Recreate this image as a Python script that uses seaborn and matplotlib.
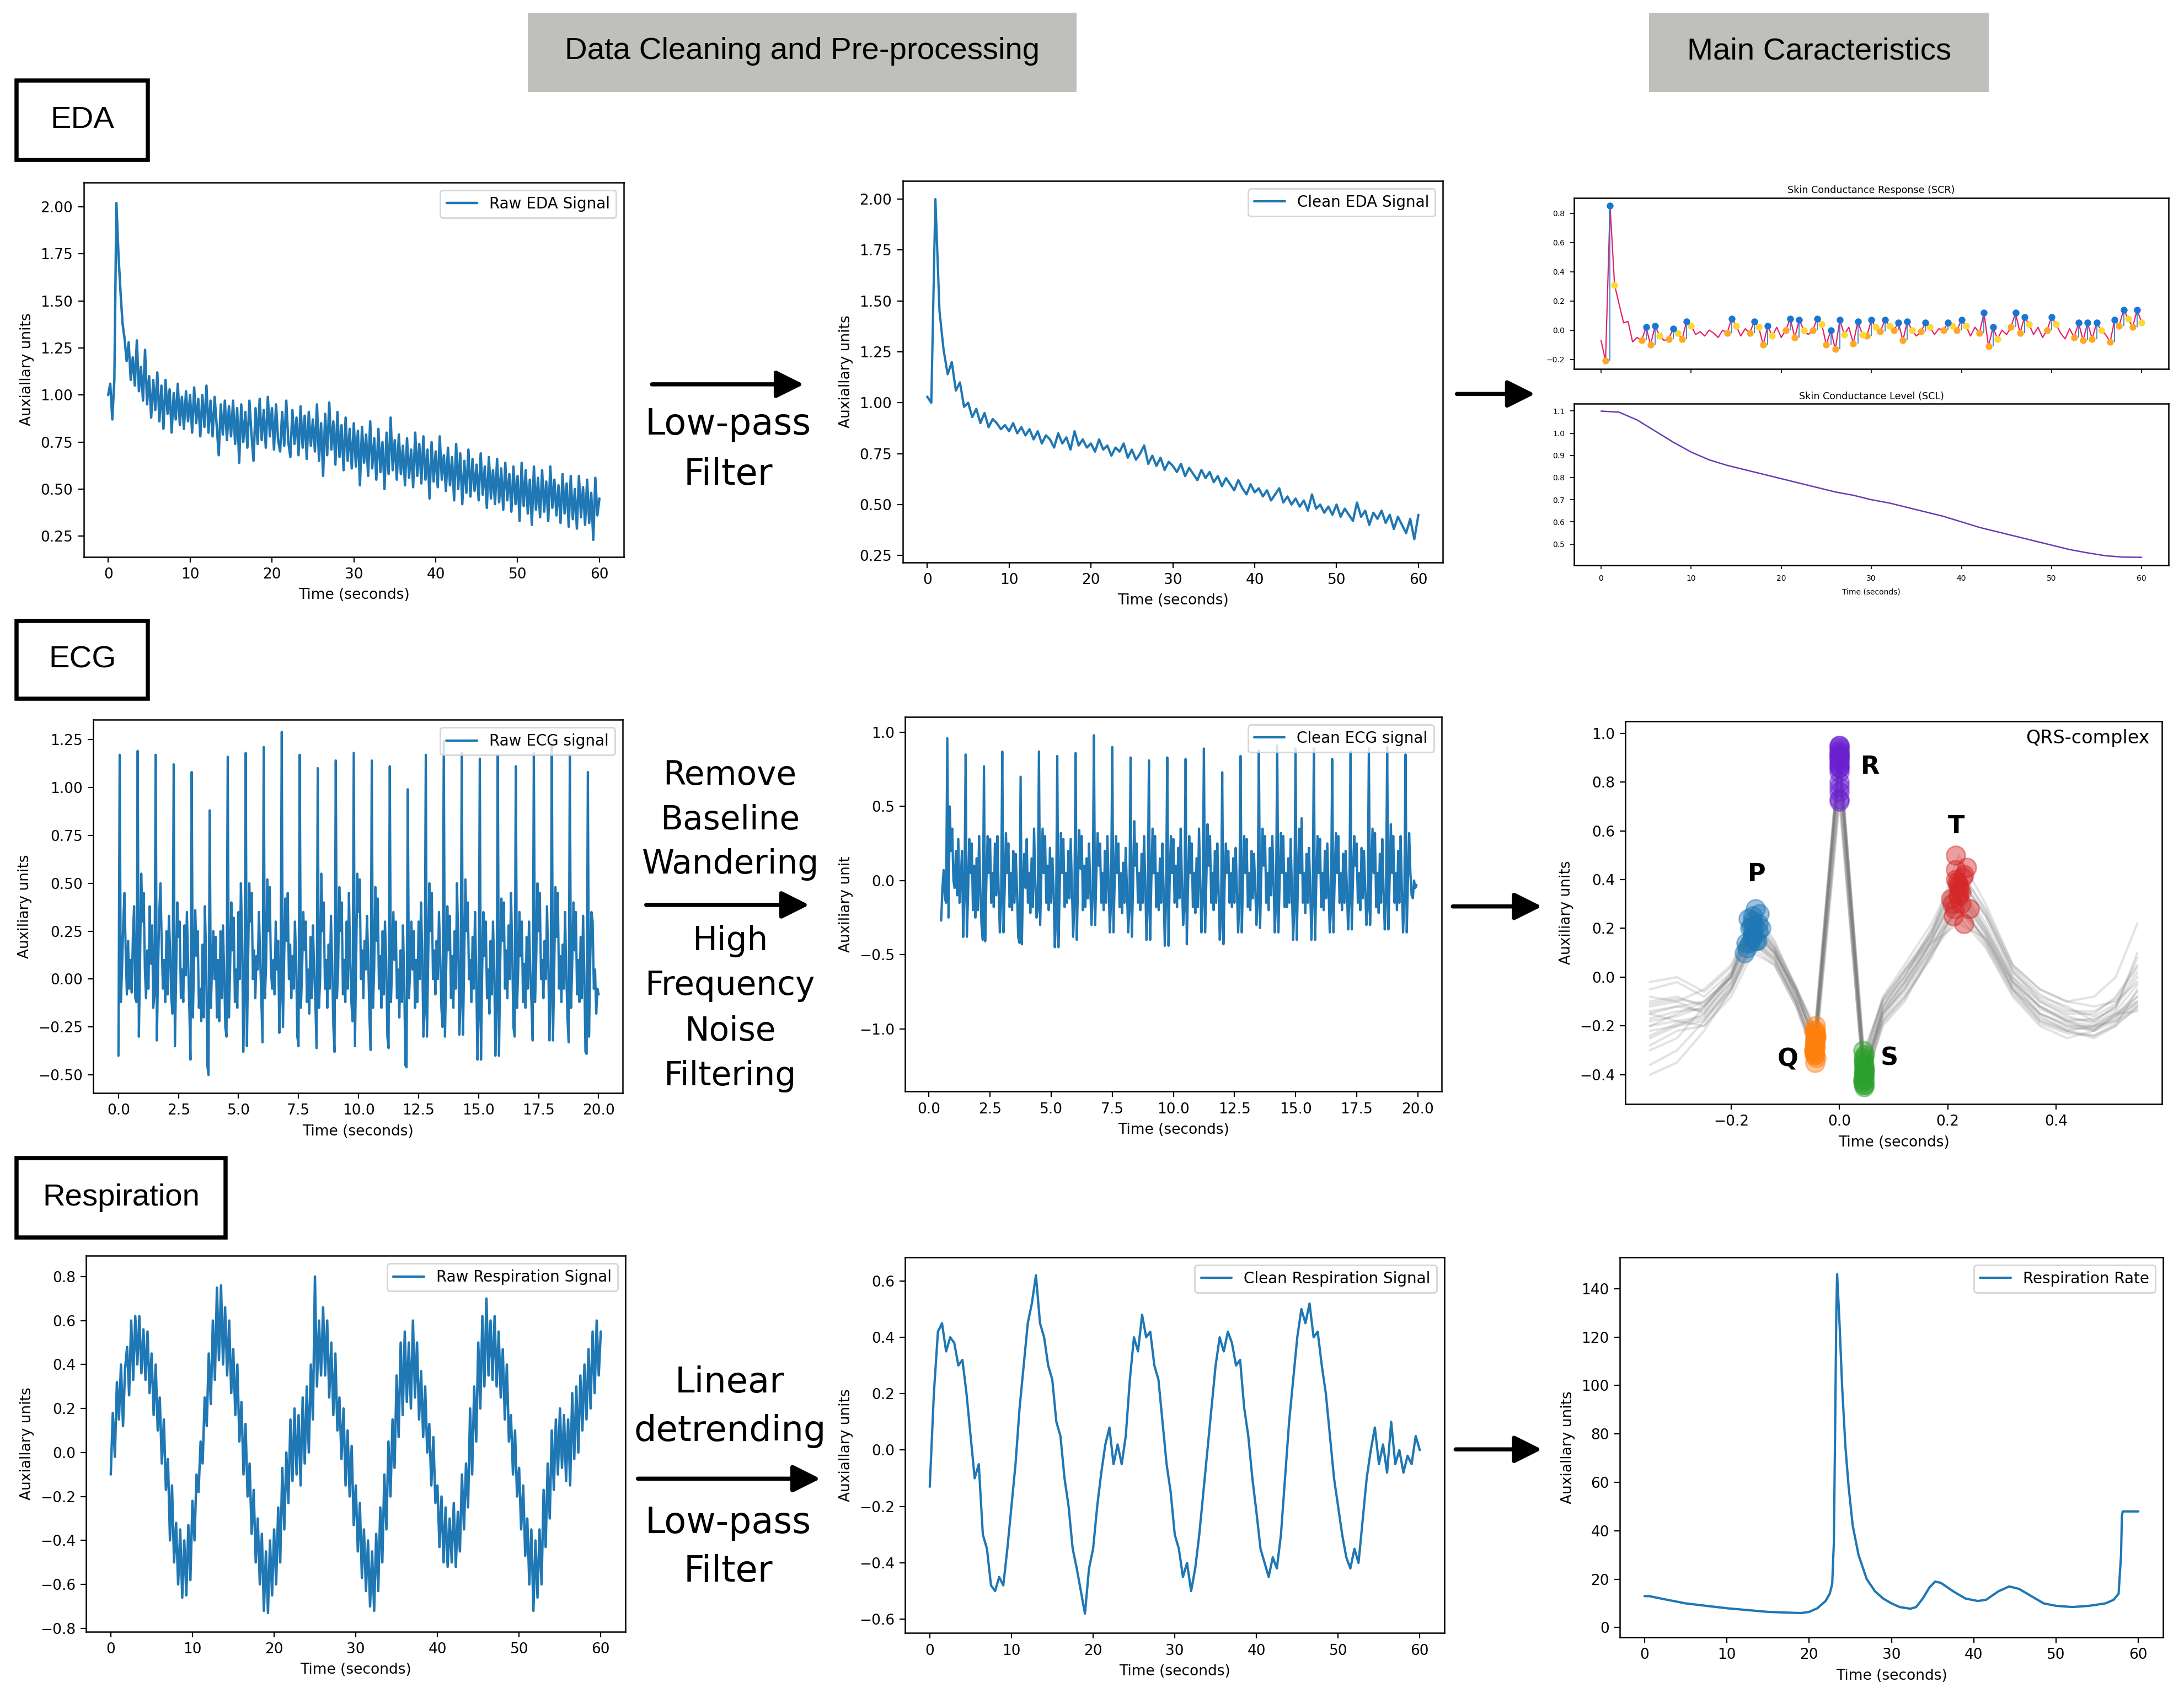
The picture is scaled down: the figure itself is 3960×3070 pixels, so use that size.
import numpy as np
import pandas as pd
import matplotlib
matplotlib.use("Agg")
import matplotlib.pyplot as plt
from matplotlib.patches import Rectangle, FancyArrowPatch
import seaborn as sns

# ======================= DATA =======================
# --- EDA raw (0..60 s, 0.25 s step)
eda_raw = [
    1.00, 1.06, 0.87, 1.08, 2.02, 1.75, 1.55, 1.38, 1.30, 1.18, 1.28, 1.08, 1.20, 1.05, 1.29, 1.02, 1.15, 0.97, 1.24, 0.95,
    1.10, 0.88, 1.08, 0.92, 1.12, 0.86, 1.05, 0.82, 1.08, 0.90, 1.03, 0.80, 1.01, 0.87, 1.06, 0.84, 0.99, 0.82, 1.02, 0.86,
    1.00, 0.80, 1.04, 0.85, 0.98, 0.78, 1.00, 0.83, 1.05, 0.80, 0.97, 0.78, 0.99, 0.84, 0.68, 0.95, 0.79, 0.97, 0.76, 0.94,
    0.78, 0.97, 0.74, 0.93, 0.64, 0.95, 0.75, 0.91, 0.72, 0.97, 0.79, 0.65, 0.93, 0.74, 0.98, 0.76, 0.92, 0.72, 0.99, 0.78,
    0.93, 0.71, 0.95, 0.76, 0.70, 0.91, 0.73, 0.97, 0.75, 0.67, 0.92, 0.74, 0.88, 0.68, 0.94, 0.72, 0.89, 0.66, 0.91, 0.73,
    0.87, 0.70, 0.95, 0.65, 0.85, 0.57, 0.90, 0.68, 0.96, 0.71, 0.86, 0.63, 0.91, 0.67, 0.84, 0.60, 0.88, 0.65, 0.82, 0.61,
    0.85, 0.62, 0.81, 0.52, 0.83, 0.64, 0.79, 0.57, 0.86, 0.61, 0.77, 0.55, 0.82, 0.59, 0.75, 0.50, 0.80, 0.58, 0.88, 0.60,
    0.76, 0.55, 0.79, 0.58, 0.73, 0.52, 0.77, 0.56, 0.71, 0.51, 0.80, 0.57, 0.74, 0.53, 0.78, 0.55, 0.71, 0.45, 0.75, 0.54,
    0.70, 0.51, 0.78, 0.55, 0.68, 0.49, 0.72, 0.52, 0.67, 0.44, 0.74, 0.50, 0.69, 0.42, 0.65, 0.48, 0.71, 0.46, 0.66, 0.49,
    0.63, 0.44, 0.69, 0.47, 0.62, 0.40, 0.67, 0.45, 0.60, 0.42, 0.66, 0.43, 0.61, 0.39, 0.64, 0.44, 0.58, 0.38, 0.62, 0.42,
    0.57, 0.33, 0.64, 0.41, 0.60, 0.37, 0.55, 0.31, 0.62, 0.39, 0.56, 0.35, 0.60, 0.38, 0.54, 0.33, 0.62, 0.40, 0.55, 0.36,
    0.52, 0.32, 0.58, 0.37, 0.53, 0.30, 0.57, 0.34, 0.50, 0.29, 0.57, 0.35, 0.51, 0.31, 0.55, 0.32, 0.48, 0.23, 0.56, 0.36,
    0.45,
]
# --- EDA clean (0..60 s, 0.5 s step)
eda_clean = [
    1.03, 1.00, 2.00, 1.45, 1.26, 1.14, 1.20, 1.06, 1.10, 0.98,
    1.00, 0.93, 0.97, 0.90, 0.95, 0.88, 0.92, 0.90, 0.87, 0.89,
    0.86, 0.90, 0.85, 0.88, 0.84, 0.87, 0.82, 0.86, 0.80, 0.84,
    0.82, 0.78, 0.85, 0.80, 0.83, 0.77, 0.86, 0.79, 0.82, 0.78,
    0.80, 0.76, 0.82, 0.77, 0.79, 0.74, 0.78, 0.76, 0.80, 0.73,
    0.77, 0.72, 0.75, 0.79, 0.70, 0.74, 0.69, 0.73, 0.67, 0.71,
    0.69, 0.66, 0.70, 0.64, 0.68, 0.65, 0.62, 0.67, 0.63, 0.66,
    0.61, 0.64, 0.59, 0.63, 0.60, 0.57, 0.62, 0.58, 0.55, 0.60,
    0.56, 0.58, 0.54, 0.57, 0.52, 0.55, 0.58, 0.51, 0.54, 0.50,
    0.53, 0.49, 0.52, 0.47, 0.55, 0.48, 0.50, 0.46, 0.49, 0.45,
    0.50, 0.44, 0.48, 0.45, 0.42, 0.51, 0.44, 0.47, 0.40, 0.46,
    0.43, 0.47, 0.41, 0.45, 0.38, 0.44, 0.40, 0.36, 0.43, 0.33,
    0.45,
]
# --- SCR phasic component (0..60 s, 0.5 s step)
scr = [
    -0.07, -0.21, 0.85, 0.31, 0.18, 0.05, 0.06, -0.08, -0.05, -0.07,
    0.02, -0.10, 0.03, -0.04, -0.07, -0.06, 0.01, -0.02, -0.06, 0.06,
    0.03, -0.03, -0.01, -0.04, 0.00, -0.02, -0.05, 0.00, -0.02, 0.08,
    0.03, -0.04, 0.01, -0.02, 0.06, 0.02, -0.10, 0.03, -0.04, 0.02,
    -0.05, 0.00, 0.08, -0.05, 0.07, 0.00, -0.03, 0.00, 0.08, 0.04,
    -0.10, 0.00, -0.13, 0.07, -0.03, 0.02, -0.09, 0.06, -0.03, -0.04,
    0.07, 0.02, -0.01, 0.07, 0.03, 0.00, 0.05, -0.07, 0.06, 0.00,
    -0.04, -0.01, 0.05, 0.02, -0.03, 0.01, 0.00, 0.05, 0.03, 0.00,
    0.07, 0.03, -0.04, 0.02, -0.02, 0.12, -0.11, 0.02, -0.06, 0.00,
    -0.03, 0.02, 0.12, -0.02, 0.09, 0.04, -0.03, 0.02, -0.05, 0.00,
    0.09, 0.04, -0.02, -0.06, 0.01, -0.05, 0.05, -0.07, 0.05, -0.06,
    0.05, 0.00, -0.03, -0.08, 0.07, 0.03, 0.14, 0.08, 0.02, 0.14,
    0.05,
]
scr_peak_idx = [2, 10, 12, 16, 19, 29, 34, 37, 42, 44, 48, 51, 53, 57, 60, 63, 66, 68, 72, 77,
                80, 85, 87, 92, 94, 100, 106, 108, 110, 114, 116, 119]
scr_onset_idx = [1, 9, 11, 15, 18, 28, 33, 36, 41, 43, 47, 50, 52, 56, 59, 62, 65, 67, 71, 76,
                 79, 84, 86, 91, 93, 99, 105, 107, 109, 113, 115, 118]
scr_half_idx = [3, 13, 17, 20, 30, 35, 38, 45, 49, 54, 58, 61, 64, 69, 73, 78, 81, 88, 95, 101,
                111, 117, 120]
# --- SCL tonic component (0..60 s, 2 s step)
scl = [1.100, 1.095, 1.060, 1.010, 0.960, 0.915, 0.880, 0.855, 0.835, 0.815, 0.795,
       0.775, 0.755, 0.735, 0.720, 0.700, 0.685, 0.665, 0.645, 0.625, 0.600,
       0.575, 0.555, 0.535, 0.515, 0.495, 0.475, 0.460, 0.447, 0.441, 0.440]

# --- ECG raw (0.05 s step, one row per heartbeat starting at the Q dip)
ecg_raw_beats = [
    [-0.40, 1.17, -0.12, 0.05, 0.30, 0.45, 0.15, -0.08, 0.20, -0.05, 0.10, -0.07, 0.22, 0.38, -0.10],
    [-0.12, 1.19, -0.30, 0.10, 0.55, 0.30, 0.45, 0.05, -0.10, 0.15, -0.05, 0.38, 0.08, 0.28, -0.15],
    [-0.08, 1.17, -0.32, 0.05, 0.35, 0.50, 0.20, -0.05, 0.10, -0.12, 0.25, -0.08, 0.33, 0.15, -0.10],
    [-0.18, 1.12, -0.35, 0.00, 0.40, 0.22, 0.30, -0.10, 0.05, -0.12, 0.28, 0.02, 0.35, 0.10, -0.15],
    [-0.42, 1.08, -0.20, 0.10, 0.36, 0.12, 0.25, -0.15, -0.05, -0.22, 0.18, -0.20, 0.38, 0.12, -0.45],
    [-0.50, 0.88, -0.15, 0.08, 0.25, 0.00, 0.22, -0.20, 0.10, -0.22, 0.25, -0.10, 0.28, 0.05, -0.25],
    [-0.30, 1.16, -0.20, 0.05, 0.40, 0.15, 0.32, -0.12, 0.05, -0.15, 0.35, 0.00, 0.50, 0.20, -0.38],
    [-0.10, 1.18, -0.35, 0.10, 0.50, 0.30, 0.45, 0.00, 0.15, -0.10, 0.12, 0.05, 0.35, 0.12, -0.12],
    [-0.33, 1.21, -0.10, 0.08, 0.52, 0.25, 0.48, 0.05, -0.05, 0.10, -0.08, 0.30, 0.05, 0.20, -0.28],
    [-0.10, 1.29, -0.25, 0.10, 0.42, 0.20, 0.45, 0.00, 0.18, -0.10, 0.12, -0.05, 0.30, 0.10, -0.30],
    [-0.35, 1.17, -0.15, 0.05, 0.35, 0.15, 0.30, -0.12, 0.05, -0.18, 0.22, -0.10, 0.28, 0.05, -0.12],
    [-0.36, 1.10, -0.15, 0.00, 0.55, 0.25, 0.40, -0.05, 0.10, -0.15, 0.18, -0.05, 0.33, 0.08, -0.25],
    [-0.38, 1.14, -0.10, 0.05, 0.48, 0.25, 0.40, -0.08, 0.10, -0.12, 0.30, -0.05, 0.45, 0.10, -0.12],
    [-0.22, 1.18, -0.35, 0.10, 0.55, 0.35, 0.52, 0.00, 0.15, -0.10, 0.20, 0.05, 0.33, 0.12, -0.18],
    [-0.37, 1.14, -0.15, 0.05, 0.48, 0.20, 0.42, -0.05, 0.12, -0.15, 0.25, -0.08, 0.30, 0.10, -0.30],
    [-0.36, 1.11, -0.12, 0.08, 0.35, 0.10, 0.30, -0.10, 0.05, -0.20, 0.15, -0.12, 0.28, 0.00, -0.45],
    [-0.46, 0.99, -0.10, 0.05, 0.30, 0.05, 0.25, -0.15, 0.10, -0.12, 0.30, 0.00, 0.40, 0.15, -0.30],
    [-0.18, 1.17, -0.30, 0.10, 0.50, 0.25, 0.45, 0.00, 0.15, -0.08, 0.20, 0.00, 0.35, 0.12, -0.15],
    [-0.25, 1.24, -0.30, 0.05, 0.38, 0.15, 0.33, -0.10, 0.12, -0.15, 0.25, -0.05, 0.50, 0.20, -0.29],
    [-0.12, 1.18, -0.29, 0.10, 0.52, 0.25, 0.40, 0.00, 0.10, -0.12, 0.22, -0.05, 0.35, 0.05, -0.42],
    [-0.20, 1.15, -0.42, 0.05, 0.35, 0.12, 0.30, -0.10, 0.05, -0.18, 0.20, -0.08, 0.30, 0.05, -0.40],
    [-0.15, 1.17, -0.40, 0.08, 0.42, 0.20, 0.40, -0.05, 0.15, -0.10, 0.28, 0.00, 0.45, 0.15, -0.25],
    [-0.30, 1.11, -0.15, 0.05, 0.35, 0.12, 0.30, -0.12, 0.08, -0.15, 0.22, -0.05, 0.30, 0.05, -0.12],
    [-0.32, 1.18, -0.12, 0.10, 0.50, 0.25, 0.45, 0.00, 0.10, -0.10, 0.20, 0.00, 0.38, 0.10, -0.32],
    [-0.10, 1.22, -0.32, 0.05, 0.48, 0.22, 0.45, -0.05, 0.12, -0.12, 0.18, -0.05, 0.35, 0.05, -0.20],
    [-0.33, 1.17, -0.15, 0.08, 0.40, 0.15, 0.35, -0.08, 0.10, -0.12, 0.22, -0.10, 0.33, 0.05, -0.38],
    [-0.39, 1.08, -0.30, 0.10, 0.35, 0.30, -0.05, 0.05, -0.18, -0.05, -0.08],
]
# --- ECG clean (starts at 0.5 s, 0.05 s step)
ecg_clean_start = [-0.27, -0.05, 0.07, -0.12]
ecg_clean_beats = [
    [-0.15, 0.96, -0.25, 0.50, 0.20, 0.35, 0.00, -0.05, 0.20, -0.10, 0.28, -0.15, 0.00, 0.20, -0.38],
    [-0.10, 0.85, -0.38, -0.10, 0.28, 0.05, 0.25, -0.20, 0.10, -0.25, 0.15, -0.20, 0.30, -0.05, -0.30],
    [-0.40, 0.77, -0.41, 0.00, 0.30, 0.05, 0.28, -0.15, 0.05, -0.18, 0.25, -0.10, 0.30, -0.05, -0.35],
    [-0.15, 0.87, -0.35, -0.05, 0.32, 0.05, 0.25, -0.18, 0.05, -0.20, 0.20, -0.15, 0.18, -0.05, -0.38],
    [-0.42, 0.70, -0.43, 0.00, 0.18, -0.05, 0.28, -0.15, 0.05, -0.22, 0.15, -0.18, 0.35, 0.00, -0.25],
    [-0.20, 0.87, -0.30, 0.05, 0.35, 0.05, 0.30, -0.15, 0.10, -0.20, 0.22, -0.15, 0.15, -0.05, -0.45],
    [-0.25, 0.84, -0.45, -0.05, 0.32, 0.05, 0.28, -0.18, 0.05, -0.15, 0.20, -0.12, 0.28, -0.05, -0.38],
    [-0.15, 0.86, -0.40, 0.00, 0.34, 0.08, 0.30, -0.20, 0.10, -0.18, 0.15, -0.12, 0.25, -0.05, -0.30],
    [-0.10, 0.98, -0.30, 0.05, 0.32, 0.10, 0.25, -0.15, 0.05, -0.20, 0.20, -0.15, 0.30, 0.00, -0.35],
    [-0.15, 0.90, -0.35, 0.00, 0.30, 0.05, 0.25, -0.18, 0.05, -0.22, 0.12, -0.15, 0.22, -0.05, -0.35],
    [-0.20, 0.83, -0.38, -0.05, 0.40, 0.10, 0.25, -0.15, 0.05, -0.20, 0.18, -0.15, 0.30, 0.00, -0.40],
    [-0.20, 0.81, -0.40, 0.00, 0.35, 0.05, 0.30, -0.18, 0.05, -0.20, 0.15, -0.15, 0.25, -0.05, -0.44],
    [-0.15, 0.83, -0.44, 0.00, 0.30, 0.05, 0.28, -0.15, 0.10, -0.18, 0.22, -0.12, 0.35, 0.00, -0.30],
    [-0.20, 0.82, -0.43, -0.05, 0.30, 0.05, 0.25, -0.18, 0.05, -0.22, 0.15, -0.18, 0.35, 0.00, -0.35],
    [-0.15, 0.89, -0.35, 0.00, 0.38, 0.10, 0.30, -0.15, 0.05, -0.20, 0.20, -0.15, 0.25, -0.05, -0.40],
    [-0.25, 0.73, -0.43, 0.00, 0.25, 0.05, 0.20, -0.15, 0.05, -0.18, 0.15, -0.15, 0.22, -0.05, -0.35],
    [-0.15, 0.84, -0.35, 0.00, 0.30, 0.05, 0.28, -0.18, 0.05, -0.20, 0.20, -0.12, 0.18, -0.05, -0.30],
    [-0.15, 0.88, -0.32, 0.05, 0.35, 0.10, 0.30, -0.15, 0.05, -0.20, 0.22, -0.10, 0.30, 0.00, -0.35],
    [-0.15, 0.91, -0.35, 0.00, 0.32, 0.05, 0.30, -0.18, 0.05, -0.18, 0.15, -0.15, 0.28, -0.05, -0.40],
    [-0.20, 0.89, -0.40, 0.00, 0.35, 0.05, 0.42, -0.15, 0.05, -0.22, 0.18, -0.15, 0.22, -0.05, -0.40],
    [-0.15, 0.89, -0.40, 0.00, 0.30, 0.05, 0.28, -0.18, 0.05, -0.20, 0.20, -0.12, 0.25, -0.05, -0.35],
    [-0.20, 0.82, -0.35, 0.00, 0.32, 0.05, 0.30, -0.15, 0.05, -0.20, 0.18, -0.15, 0.20, -0.05, -0.33],
    [-0.15, 0.87, -0.33, 0.00, 0.30, 0.10, 0.25, -0.15, 0.05, -0.20, 0.22, -0.12, 0.20, -0.05, -0.30],
    [-0.20, 0.89, -0.30, 0.05, 0.35, 0.05, 0.32, -0.18, 0.05, -0.22, 0.18, -0.15, 0.28, -0.05, -0.33],
    [-0.15, 0.90, -0.33, 0.00, 0.38, 0.05, 0.30, -0.15, 0.05, -0.20, 0.20, -0.15, 0.30, -0.05, -0.35],
    [-0.15, 0.85, -0.35, 0.00, 0.32, 0.05, -0.10, -0.12, 0.00, -0.05, -0.03],
]
# --- QRS-complex heartbeats (time relative to R peak)
beat_time = [-0.35, -0.30, -0.25, -0.20, -0.16, -0.12, -0.08, -0.045, 0.0, 0.045, 0.08,
             0.12, 0.17, 0.22, 0.27, 0.32, 0.37, 0.42, 0.47, 0.51, 0.55]
beats = [
    [-0.15, -0.12, -0.14, -0.02, 0.20, 0.10, -0.05, -0.28, 0.92, -0.40, -0.15, -0.05, 0.15, 0.38, 0.20, -0.02, -0.12, -0.18, -0.20, -0.15, -0.08],
    [-0.05, -0.02, -0.08, 0.02, 0.25, 0.12, -0.08, -0.25, 0.88, -0.42, -0.12, 0.00, 0.18, 0.40, 0.25, 0.02, -0.10, -0.15, -0.15, -0.08, 0.05],
    [-0.25, -0.20, -0.18, -0.05, 0.15, 0.08, -0.10, -0.30, 0.95, -0.38, -0.18, -0.08, 0.10, 0.30, 0.15, -0.05, -0.18, -0.22, -0.25, -0.20, -0.12],
    [-0.40, -0.35, -0.22, -0.05, 0.12, 0.05, -0.12, -0.35, 0.72, -0.44, -0.20, -0.10, 0.10, 0.25, 0.12, -0.08, -0.20, -0.25, -0.22, -0.15, -0.10],
    [-0.12, -0.10, -0.15, 0.00, 0.22, 0.12, -0.05, -0.22, 0.90, -0.35, -0.10, 0.00, 0.20, 0.42, 0.25, 0.02, -0.08, -0.12, -0.18, -0.12, 0.00],
    [-0.20, -0.15, -0.10, 0.00, 0.18, 0.10, -0.08, -0.28, 0.80, -0.40, -0.15, -0.05, 0.12, 0.34, 0.18, -0.02, -0.15, -0.20, -0.20, -0.18, -0.10],
    [-0.15, -0.18, -0.20, -0.08, 0.10, 0.05, -0.12, -0.32, 0.86, -0.36, -0.12, 0.02, 0.18, 0.50, 0.30, 0.05, -0.05, -0.10, -0.08, 0.00, 0.22],
    [-0.10, -0.08, -0.12, 0.00, 0.28, 0.15, -0.05, -0.24, 0.93, -0.30, -0.10, 0.02, 0.15, 0.35, 0.18, -0.05, -0.15, -0.20, -0.22, -0.18, -0.12],
    [-0.22, -0.20, -0.15, -0.02, 0.16, 0.08, -0.10, -0.30, 0.84, -0.42, -0.15, -0.03, 0.14, 0.28, 0.16, -0.04, -0.16, -0.22, -0.24, -0.20, -0.05],
    [-0.18, -0.16, -0.12, 0.02, 0.20, 0.10, -0.06, -0.26, 0.90, -0.38, -0.14, -0.02, 0.16, 0.37, 0.20, 0.00, -0.12, -0.17, -0.18, -0.12, 0.08],
    [-0.08, -0.10, -0.05, 0.05, 0.23, 0.12, -0.05, -0.20, 0.94, -0.34, -0.08, 0.05, 0.22, 0.44, 0.28, 0.05, -0.05, -0.10, -0.12, -0.10, -0.02],
    [-0.28, -0.22, -0.20, -0.06, 0.14, 0.06, -0.10, -0.32, 0.73, -0.44, -0.18, -0.08, 0.08, 0.32, 0.14, -0.06, -0.18, -0.22, -0.20, -0.15, -0.14],
    [-0.14, -0.12, -0.10, 0.00, 0.19, 0.10, -0.06, -0.27, 0.89, -0.39, -0.13, -0.02, 0.14, 0.22, 0.16, -0.02, -0.12, -0.18, -0.22, -0.16, -0.06],
    [-0.20, -0.18, -0.16, -0.04, 0.17, 0.09, -0.08, -0.29, 0.91, -0.41, -0.16, -0.04, 0.12, 0.33, 0.17, -0.03, -0.15, -0.19, -0.21, -0.17, -0.08],
    [-0.30, -0.25, -0.12, 0.00, 0.21, 0.11, -0.07, -0.25, 0.87, -0.37, -0.12, 0.00, 0.17, 0.39, 0.22, 0.00, -0.10, -0.16, -0.19, -0.14, -0.03],
    [-0.02, 0.00, -0.06, 0.04, 0.24, 0.13, -0.04, -0.23, 0.91, -0.33, -0.09, 0.03, 0.19, 0.41, 0.26, 0.04, -0.07, -0.13, -0.16, -0.11, 0.02],
    [-0.24, -0.19, -0.17, -0.05, 0.15, 0.07, -0.11, -0.31, 0.78, -0.45, -0.19, -0.09, 0.09, 0.28, 0.13, -0.07, -0.19, -0.23, -0.24, -0.19, -0.13],
    [-0.17, -0.14, -0.13, 0.01, 0.21, 0.11, -0.06, -0.26, 0.86, -0.39, -0.14, -0.02, 0.15, 0.36, 0.19, -0.01, -0.13, -0.18, -0.17, -0.13, 0.10],
    [-0.36, -0.30, -0.18, -0.03, 0.14, 0.07, -0.10, -0.33, 0.76, -0.43, -0.17, -0.06, 0.11, 0.30, 0.15, -0.05, -0.17, -0.21, -0.21, -0.16, -0.11],
    [-0.11, -0.09, -0.11, 0.01, 0.26, 0.14, -0.04, -0.22, 0.95, -0.32, -0.09, 0.03, 0.17, 0.45, 0.27, 0.03, -0.09, -0.14, -0.14, -0.09, 0.04],
]
wave_names = ["P", "Q", "R", "S", "T"]
wave_cols = [4, 7, 8, 9, 13]
wave_colors = ["#1f77b4", "#ff7f0e", "#6a1fd0", "#2ca02c", "#d62728"]
wave_x = {
    "P": [-0.165, -0.160, -0.155, -0.170, -0.150, -0.160, -0.175, -0.155, -0.160, -0.145,
          -0.160, -0.165, -0.150, -0.160, -0.158, -0.168, -0.152, -0.162, -0.172, -0.148],
    "Q": [-0.045, -0.043, -0.047, -0.045, -0.044, -0.046, -0.045, -0.043, -0.047, -0.045,
          -0.044, -0.046, -0.045, -0.044, -0.045, -0.044, -0.046, -0.045, -0.043, -0.047],
    "R": [0.0] * 20,
    "S": [0.045, 0.043, 0.047, 0.045, 0.044, 0.046, 0.045, 0.043, 0.047, 0.045,
          0.044, 0.046, 0.045, 0.044, 0.045, 0.044, 0.046, 0.045, 0.043, 0.047],
    "T": [0.220, 0.215, 0.225, 0.210, 0.230, 0.220, 0.215, 0.225, 0.240, 0.220,
          0.215, 0.205, 0.230, 0.220, 0.218, 0.228, 0.212, 0.222, 0.208, 0.235],
}

# --- Respiration raw (0..60 s, 0.25 s step)
resp_raw = [
    -0.10, 0.18, -0.02, 0.32, 0.15, 0.40, 0.12, 0.38, 0.48, 0.26, 0.60, 0.33, 0.62, 0.40, 0.62, 0.36,
    0.56, 0.33, 0.55, 0.27, 0.45, 0.17, 0.40, 0.10, 0.25, -0.05, 0.15, -0.17, -0.03, -0.40, -0.15, -0.50,
    -0.32, -0.60, -0.35, -0.66, -0.40, -0.65, -0.33, -0.58, -0.22, -0.40, -0.10, -0.18, 0.05, -0.05, 0.25, 0.12,
    0.45, 0.22, 0.60, 0.33, 0.75, 0.42, 0.76, 0.40, 0.66, 0.35, 0.60, 0.27, 0.47, 0.17, 0.40, 0.05,
    0.23, -0.10, 0.13, -0.20, -0.05, -0.37, -0.17, -0.50, -0.30, -0.60, -0.37, -0.72, -0.45, -0.73, -0.40, -0.65,
    -0.35, -0.60, -0.25, -0.50, -0.07, -0.35, 0.00, -0.23, 0.15, -0.13, 0.20, -0.10, 0.17, -0.15, 0.25, -0.05,
    0.30, 0.00, 0.40, 0.15, 0.80, 0.30, 0.60, 0.35, 0.66, 0.35, 0.60, 0.25, 0.50, 0.17, 0.45, 0.10,
    0.25, -0.03, 0.20, -0.15, 0.10, -0.20, 0.03, -0.33, -0.15, -0.45, -0.23, -0.57, -0.35, -0.63, -0.40, -0.70,
    -0.45, -0.72, -0.37, -0.63, -0.25, -0.50, -0.10, -0.35, 0.05, -0.20, 0.15, -0.07, 0.35, 0.07, 0.50, 0.17,
    0.55, 0.23, 0.50, 0.20, 0.60, 0.25, 0.50, 0.15, 0.37, 0.07, 0.30, 0.00, 0.13, -0.15, 0.07, -0.23,
    -0.15, -0.43, -0.20, -0.50, -0.25, -0.52, -0.30, -0.50, -0.23, -0.52, -0.27, -0.45, -0.10, -0.35, -0.05, -0.25,
    0.20, -0.10, 0.30, 0.05, 0.50, 0.20, 0.62, 0.30, 0.70, 0.35, 0.60, 0.33, 0.62, 0.30, 0.55, 0.25,
    0.47, 0.15, 0.40, 0.05, 0.17, -0.10, 0.10, -0.20, -0.07, -0.35, -0.15, -0.47, -0.30, -0.60, -0.35, -0.72,
    -0.40, -0.66, -0.35, -0.60, -0.17, -0.43, -0.05, -0.30, 0.10, -0.17, 0.15, -0.10, 0.20, -0.07, 0.17, -0.13,
    0.15, -0.15, 0.27, -0.03, 0.30, 0.00, 0.35, 0.10, 0.40, 0.15, 0.47, 0.20, 0.55, 0.27, 0.60, 0.35,
    0.55,
]
# --- Respiration clean (0..60 s, 0.5 s step)
resp_clean = [
    -0.13, 0.20, 0.42, 0.45, 0.35, 0.40, 0.38, 0.30, 0.32, 0.20,
    0.05, -0.10, -0.05, -0.30, -0.35, -0.48, -0.50, -0.45, -0.48, -0.35,
    -0.20, -0.05, 0.15, 0.30, 0.45, 0.52, 0.62, 0.45, 0.40, 0.30,
    0.25, 0.10, 0.05, -0.10, -0.20, -0.35, -0.42, -0.50, -0.58, -0.42,
    -0.35, -0.20, -0.08, 0.02, 0.08, -0.05, 0.02, -0.05, 0.05, 0.25,
    0.40, 0.35, 0.48, 0.40, 0.42, 0.30, 0.25, 0.10, -0.05, -0.15,
    -0.30, -0.35, -0.45, -0.40, -0.50, -0.42, -0.30, -0.15, 0.00, 0.15,
    0.30, 0.40, 0.35, 0.42, 0.38, 0.30, 0.32, 0.15, 0.05, -0.10,
    -0.22, -0.35, -0.40, -0.45, -0.38, -0.42, -0.30, -0.10, 0.10, 0.25,
    0.40, 0.50, 0.45, 0.52, 0.40, 0.42, 0.30, 0.20, 0.05, -0.10,
    -0.20, -0.30, -0.38, -0.42, -0.35, -0.40, -0.25, -0.10, 0.00, 0.08,
    -0.05, 0.02, -0.08, 0.10, -0.05, 0.00, -0.08, -0.02, -0.05, 0.05,
    0.00,
]
# --- Respiration rate
rate_time = [0.0, 0.6, 2.0, 5.0, 10.0, 15.0, 19.0, 20.0, 21.0, 22.0, 22.5, 22.8, 23.0, 23.15, 23.3, 23.4,
             23.7, 24.0, 24.4, 24.8, 25.3, 26.0, 27.0, 28.0, 29.0, 30.0, 31.0, 32.3, 33.0, 33.8, 34.6,
             35.3, 36.0, 37.5, 39.0, 40.5, 41.5, 43.0, 44.3, 45.5, 47.0, 48.5, 50.0, 52.0, 54.0, 56.0,
             57.0, 57.6, 57.9, 58.0, 58.1, 60.0]
rate_vals = [13.0, 13.0, 12.0, 10.0, 8.0, 6.5, 6.0, 6.5, 8.0, 11.0, 14.0, 18.0, 35.0, 80.0, 130.0, 146.0,
             125.0, 100.0, 75.0, 58.0, 42.0, 30.0, 20.0, 15.0, 12.0, 10.0, 8.5, 7.8, 8.5, 12.0, 16.5,
             19.0, 18.5, 15.0, 12.0, 11.0, 11.5, 15.0, 17.0, 16.0, 13.0, 10.0, 9.0, 8.5, 9.0, 10.0,
             11.5, 14.0, 30.0, 46.0, 48.0, 48.0]

# ======================= STYLE =======================
sns.set_theme(style="ticks")
plt.rcParams.update({
    "font.family": ["DejaVu Sans"],
    "axes.edgecolor": "black",
    "axes.linewidth": 0.9,
    "axes.labelcolor": "black",
    "text.color": "black",
    "xtick.color": "black",
    "ytick.color": "black",
    "xtick.major.size": 3.5,
    "ytick.major.size": 3.5,
    "xtick.major.width": 0.8,
    "ytick.major.width": 0.8,
    "axes.facecolor": "white",
    "figure.facecolor": "white",
})

BLUE = "#1f77b4"
TICK, LAB, LEG = 9.5, 9.5, 10

fig = plt.figure(figsize=(19.8, 15.35), dpi=200)


def style_ax(ax, xlim, ylim, xticks, yticks, ylabel, xlabel="Time (seconds)",
             tick=TICK, lab=LAB):
    ax.set_xlim(xlim)
    ax.set_ylim(ylim)
    ax.set_xticks(xticks)
    ax.set_yticks(yticks)
    ax.tick_params(labelsize=tick)
    ax.set_ylabel(ylabel, fontsize=lab)
    ax.set_xlabel(xlabel, fontsize=lab)
    for s in ax.spines.values():
        s.set_visible(True)


def legend(ax):
    ax.legend(loc="upper right", fontsize=LEG, frameon=True, fancybox=True,
              framealpha=0.8, edgecolor="0.8")


# ---------------- Row 1 : EDA ----------------
ax = fig.add_axes([0.0383, 0.6711, 0.2474, 0.2212])
t = np.linspace(0, 60, len(eda_raw))
sns.lineplot(x=t, y=eda_raw, ax=ax, color=BLUE, linewidth=1.6, label="Raw EDA Signal")
style_ax(ax, (-3, 63), (0.14, 2.13), range(0, 61, 10), np.arange(0.25, 2.01, 0.25), "Auxiallary units")
legend(ax)

ax = fig.add_axes([0.4133, 0.6678, 0.2474, 0.2253])
t = np.linspace(0, 60, len(eda_clean))
sns.lineplot(x=t, y=eda_clean, ax=ax, color=BLUE, linewidth=1.5, label="Clean EDA Signal")
style_ax(ax, (-3, 63), (0.216, 2.089), range(0, 61, 10), np.arange(0.25, 2.01, 0.25), "Auxiallary units")
legend(ax)

# SCR
ax = fig.add_axes([0.7207, 0.7821, 0.2723, 0.1011])
scr_arr = np.array(scr)
t_scr = np.linspace(0, 60, len(scr))
sns.lineplot(x=t_scr, y=scr_arr, ax=ax, color="#E91E63", linewidth=0.8)
ax.vlines(t_scr[scr_peak_idx], scr_arr[scr_onset_idx], scr_arr[scr_peak_idx], color="#1976D2", linewidth=0.6)
sns.scatterplot(x=t_scr[scr_onset_idx], y=scr_arr[scr_onset_idx], ax=ax, color="#FFA726", s=20, linewidth=0, zorder=3)
sns.scatterplot(x=t_scr[scr_half_idx], y=scr_arr[scr_half_idx], ax=ax, color="#FDD835", s=20, linewidth=0, zorder=3)
sns.scatterplot(x=t_scr[scr_peak_idx], y=scr_arr[scr_peak_idx], ax=ax, color="#1976D2", s=20, linewidth=0, zorder=4)
style_ax(ax, (-3, 63), (-0.265, 0.906), range(0, 61, 10), np.arange(-0.2, 0.81, 0.2), "", xlabel="",
         tick=5, lab=5)
ax.tick_params(labelbottom=False, length=2.5, width=0.6)
ax.set_title("Skin Conductance Response (SCR)", fontsize=6.3, pad=3)

# SCL
ax = fig.add_axes([0.7207, 0.6661, 0.2723, 0.0954])
t_scl = np.linspace(0, 60, len(scl))
sns.lineplot(x=t_scl, y=scl, ax=ax, color="#673AB7", linewidth=0.9)
style_ax(ax, (-3, 63), (0.404, 1.133), range(0, 61, 10), np.arange(0.5, 1.11, 0.1), "",
         tick=5, lab=5)
ax.tick_params(length=2.5, width=0.6)
ax.set_title("Skin Conductance Level (SCL)", fontsize=6.3, pad=3)

# ---------------- Row 2 : ECG ----------------
ax = fig.add_axes([0.0427, 0.3544, 0.2424, 0.2204])
ecg_raw = np.concatenate([np.array(b) for b in ecg_raw_beats])
t = np.arange(len(ecg_raw)) * 0.05
sns.lineplot(x=t, y=ecg_raw, ax=ax, color=BLUE, linewidth=1.5, label="Raw ECG signal")
style_ax(ax, (-1.05, 21.0), (-0.594, 1.352), np.arange(0, 20.1, 2.5), np.arange(-0.5, 1.26, 0.25), "Auxiliary units")
legend(ax)

ax = fig.add_axes([0.4145, 0.3553, 0.2455, 0.2212])
ecg_clean = np.concatenate([np.array(ecg_clean_start)] + [np.array(b) for b in ecg_clean_beats])
t = 0.5 + np.arange(len(ecg_clean)) * 0.05
sns.lineplot(x=t, y=ecg_clean, ax=ax, color=BLUE, linewidth=1.5, label="Clean ECG signal")
style_ax(ax, (-0.97, 20.97), (-1.423, 1.103), np.arange(0, 20.1, 2.5), np.arange(-1.0, 1.01, 0.5), "Auxiliary unit")
legend(ax)

# QRS complex
ax = fig.add_axes([0.7443, 0.3479, 0.2455, 0.2262])
rows = []
for i, b in enumerate(beats):
    for tt, vv in zip(beat_time, b):
        rows.append({"beat": i, "t": tt, "v": vv})
df_beats = pd.DataFrame(rows)
sns.lineplot(data=df_beats, x="t", y="v", units="beat", estimator=None, ax=ax,
             color="grey", alpha=0.22, linewidth=1.5, legend=False)
beats_arr = np.array(beats)
for name, col, c in zip(wave_names, wave_cols, wave_colors):
    sns.scatterplot(x=wave_x[name], y=beats_arr[:, col], ax=ax, color=c, s=150, alpha=0.45,
                    edgecolor=c, linewidth=1.0, zorder=3, legend=False)
style_ax(ax, (-0.395, 0.595), (-0.52, 1.05), [-0.2, 0.0, 0.2, 0.4], np.arange(-0.4, 1.01, 0.2), "Auxiliary units")
lab_pos = {"P": (-0.153, 0.422), "Q": (-0.095, -0.336), "R": (0.057, 0.862), "S": (0.092, -0.333), "T": (0.216, 0.618)}
for name, (lx, ly) in lab_pos.items():
    ax.text(lx, ly, name, fontsize=16, fontweight="heavy", ha="center", va="center")
ax.text(0.458, 0.979, "QRS-complex", fontsize=12, ha="center", va="center")

# ---------------- Row 3 : Respiration ----------------
ax = fig.add_axes([0.0395, 0.0362, 0.2468, 0.2220])
t = np.linspace(0, 60, len(resp_raw))
sns.lineplot(x=t, y=resp_raw, ax=ax, color=BLUE, linewidth=1.6, label="Raw Respiration Signal")
style_ax(ax, (-3, 63), (-0.815, 0.894), range(0, 61, 10), np.arange(-0.8, 0.81, 0.2), "Auxiallary units")
legend(ax)

ax = fig.add_axes([0.4145, 0.0354, 0.2468, 0.2220])
t = np.linspace(0, 60, len(resp_clean))
sns.lineplot(x=t, y=resp_clean, ax=ax, color=BLUE, linewidth=1.5, label="Clean Respiration Signal")
style_ax(ax, (-3, 63), (-0.649, 0.684), range(0, 61, 10), np.arange(-0.6, 0.61, 0.2), "Auxiallary units")
legend(ax)

ax = fig.add_axes([0.7417, 0.0329, 0.2487, 0.2245])
sns.lineplot(x=rate_time, y=rate_vals, ax=ax, color=BLUE, linewidth=1.5, label="Respiration Rate")
style_ax(ax, (-3, 63), (-4, 153), range(0, 61, 10), range(0, 141, 20), "Auxiallary units")
legend(ax)

# ---------------- Annotations ----------------
HEAD = ["Liberation Sans", "DejaVu Sans"]
for (x0, x1, txt) in [(0.2417, 0.4930, "Data Cleaning and Pre-processing"),
                      (0.7551, 0.9107, "Main Caracteristics")]:
    fig.add_artist(Rectangle((x0, 0.9457), x1 - x0, 0.0469, transform=fig.transFigure,
                             facecolor="#bfc0bb", edgecolor="none"))
    fig.text((x0 + x1) / 2, 0.9696, txt, ha="center", va="center", fontsize=20.3, family=HEAD)

for (x0, x1, y0, y1, txt) in [(0.0077, 0.0676, 0.9054, 0.9523, "EDA"),
                              (0.0077, 0.0676, 0.5872, 0.6332, "ECG"),
                              (0.0077, 0.1033, 0.2689, 0.3158, "Respiration")]:
    fig.add_artist(Rectangle((x0, y0), x1 - x0, y1 - y0, transform=fig.transFigure,
                             facecolor="white", edgecolor="black", linewidth=2.7))
    fig.text((x0 + x1) / 2, (y0 + y1) / 2, txt, ha="center", va="center", fontsize=20.3, family=HEAD)

for (x0, x1, y) in [(0.2985, 0.3680, 0.7730), (0.6671, 0.7028, 0.7673),
                    (0.2959, 0.3705, 0.4655), (0.6652, 0.7060, 0.4646),
                    (0.2921, 0.3756, 0.1266), (0.6665, 0.7060, 0.1439)]:
    fig.add_artist(FancyArrowPatch((x0, y), (x1, y), transform=fig.transFigure,
                                   arrowstyle="-|>", mutation_scale=38, linewidth=2.7,
                                   color="black", shrinkA=0, shrinkB=0))

steps = [
    ("Low-pass", 0.3335, 0.7492, 23.5), ("Filter", 0.3335, 0.7196, 23.5),
    ("Remove", 0.3342, 0.5419, 21.5), ("Baseline", 0.3342, 0.5156, 21.5),
    ("Wandering", 0.3342, 0.4893, 21.5), ("High", 0.3342, 0.4441, 21.5),
    ("Frequency", 0.3342, 0.4178, 21.5), ("Noise", 0.3342, 0.3906, 21.5),
    ("Filtering", 0.3342, 0.3643, 21.5),
    ("Linear", 0.3342, 0.1834, 23), ("detrending", 0.3342, 0.1546, 23),
    ("Low-pass", 0.3335, 0.1003, 23.5), ("Filter", 0.3335, 0.0715, 23.5),
]
for txt, x, y, fs in steps:
    fig.text(x, y, txt, ha="center", va="center", fontsize=fs)

fig.savefig("out.png", dpi=200)
